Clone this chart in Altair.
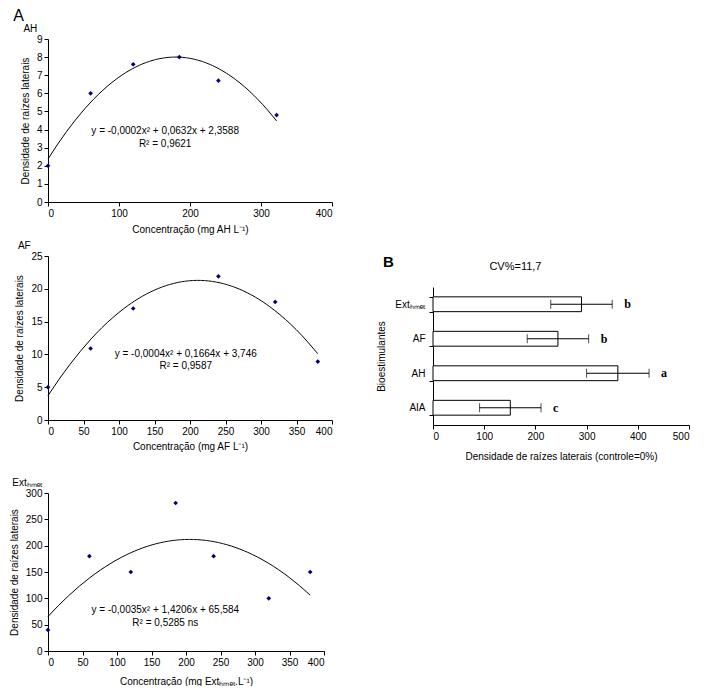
import altair as alt
import pandas as pd

# ---- data ----
ah_x = [0, 60, 120, 185, 240, 322]
ah_y = [2.0, 6.0, 7.6, 8.0, 6.7, 4.8]

af_x = [0, 60, 120, 240, 320, 380]
af_y = [5.0, 10.9, 17.0, 21.9, 18.0, 8.9]

ext_x = [0, 60, 120, 185, 240, 320, 380]
ext_y = [40, 180, 150, 281, 180, 100, 150]

b_cats = ["Extₕₘₑₜ", "AF", "AH", "AIA"]
b_vals = [290, 244, 361, 151]
b_errs = [60, 60, 61, 60]
b_letters = ["b", "b", "a", "c"]

eq_ah = ["y = -0,0002x² + 0,0632x + 2,3588", "R² = 0,9621"]
eq_af = ["y = -0,0004x² + 0,1664x + 3,746", "R² = 0,9587"]
eq_ext = ["y = -0,0035x² + 1,4206x + 65,584", "R² = 0,5285 ns"]

FONT = "Liberation Sans"
NAVY = "#000080"
YT = "Densidade de raízes laterais"


def panel(xs, ys, label, xtitle, ymax, ystep, xstep, w, h, eq, eqx, eqy1, eqy2, tpad):
    df = pd.DataFrame({"x": xs, "y": ys})
    base = alt.Chart(df)
    xs_ = alt.Scale(domain=[0, 400], nice=False)
    ys_ = alt.Scale(domain=[0, ymax], nice=False)
    xa = alt.Axis(values=list(range(0, 401, xstep)), title=xtitle, titlePadding=tpad)
    ya = alt.Axis(values=list(range(0, ymax + 1, ystep)), title=YT, titlePadding=6)
    xenc = alt.X("x:Q", scale=xs_, axis=xa)
    yenc = alt.Y("y:Q", scale=ys_, axis=ya)
    line = base.transform_regression("x", "y", method="poly", order=2).mark_line(
        color="black", strokeWidth=1).encode(x=xenc, y=yenc)
    pts = base.mark_point(shape="diamond", filled=True, size=22, color=NAVY, opacity=1).encode(
        x=xenc, y=yenc)
    texts = []
    for t, yy in ((eq[0], eqy1), (eq[1], eqy2)):
        texts.append(alt.Chart(pd.DataFrame({"t": [t]})).mark_text(
            fontSize=10, font=FONT, color="black").encode(
            x=alt.X(datum=eqx, type="quantitative", scale=xs_, axis=xa),
            y=alt.Y(datum=yy, type="quantitative", scale=ys_, axis=ya),
            text="t:N"))
    return alt.layer(line, pts, *texts).properties(
        width=w, height=h,
        title=alt.TitleParams(label, anchor="start", dx=3, fontSize=10, fontWeight="normal",
                              font=FONT, offset=0))


A1 = panel(ah_x, ah_y, "AH", "Concentração (mg AH L⁻¹)", 9, 1, 100, 284, 163,
           eq_ah, 165, 3.9, 3.2, 6)
A2 = panel(af_x, af_y, "AF", "Concentração (mg AF L⁻¹)", 25, 5, 50, 284, 164,
           eq_af, 194, 10.1, 8.2, 5)
A3 = panel(ext_x, ext_y, "Extₕₘₑₜ", "Concentração (mg Extₕₘₑₜ.L⁻¹)", 300, 50, 50, 276, 158,
           eq_ext, 170, 77, 54, 9)

dfb = pd.DataFrame({"cat": b_cats, "v": b_vals, "e": b_errs, "L": b_letters})
bb = alt.Chart(dfb).transform_calculate(lo="datum.v - datum.e", hi="datum.v + datum.e")
ybs = alt.Scale(paddingInner=0.57, paddingOuter=0.285)
yba = alt.Axis(title="Bioestimulantes", tickBand="extent", labelPadding=4, titlePadding=8)
yb = alt.Y("cat:N", sort=b_cats, scale=ybs, axis=yba)
xbs = alt.Scale(domain=[0, 500], nice=False)
xba = alt.Axis(values=[0, 100, 200, 300, 400, 500], titlePadding=10,
               title="Densidade de raízes laterais (controle=0%)")
bars = bb.mark_bar(fill="white", stroke="black", strokeWidth=1).encode(
    y=yb, x=alt.X("v:Q", scale=xbs, axis=xba))
rule = bb.mark_rule(color="black", strokeWidth=1).encode(
    y=yb, x=alt.X("lo:Q", scale=xbs, axis=xba), x2="hi:Q")
cap1 = bb.mark_tick(color="black", thickness=1, size=9).encode(
    y=yb, x=alt.X("lo:Q", scale=xbs, axis=xba))
cap2 = bb.mark_tick(color="black", thickness=1, size=9).encode(
    y=yb, x=alt.X("hi:Q", scale=xbs, axis=xba))
lets = bb.mark_text(align="left", dx=12, font="Liberation Serif", fontWeight="bold",
                    fontSize=12, color="black").encode(
    y=yb, x=alt.X("hi:Q", scale=xbs, axis=xba), text="L:N")
cv = alt.Chart(pd.DataFrame({"t": ["CV%=11,7"]})).mark_text(
    fontSize=11, font=FONT, color="black").encode(
    x=alt.X(datum=161, type="quantitative", scale=xbs, axis=xba),
    y=alt.value(-20), text="t:N")
blab = alt.Chart(pd.DataFrame({"t": ["B"]})).mark_text(
    fontSize=15, font=FONT, fontWeight="bold", color="black", align="left").encode(
    x=alt.value(-50), y=alt.value(-25), text="t:N")
B = alt.layer(bars, rule, cap1, cap2, lets, cv, blab).properties(width=256, height=138)

spacer = alt.Chart(pd.DataFrame({"s": [0]})).mark_point(opacity=0).encode(
    x=alt.X("s:Q", axis=None), y=alt.Y("s:Q", axis=None)).properties(width=10, height=216)
right = alt.vconcat(spacer, B, spacing=0)

left = alt.vconcat(alt.vconcat(A1, A2, spacing=7), A3, spacing=27)

chart = alt.hconcat(left, right, spacing=43).properties(
    padding={"left": 1, "top": 0, "right": 0, "bottom": 0},
    title=alt.TitleParams("A", anchor="start", fontSize=16, fontWeight="normal",
                          font=FONT, offset=0, dx=4)
).configure_view(stroke=None).configure_axis(
    labelFont=FONT, titleFont=FONT, labelFontSize=10, titleFontSize=10,
    titleFontWeight="normal", labelColor="black", titleColor="black",
    domainColor="black", tickColor="black", tickSize=4, grid=False, labelPadding=2
).configure_title(color="black")

chart.save("out.html", embed_options={"renderer": "svg", "actions": False})
